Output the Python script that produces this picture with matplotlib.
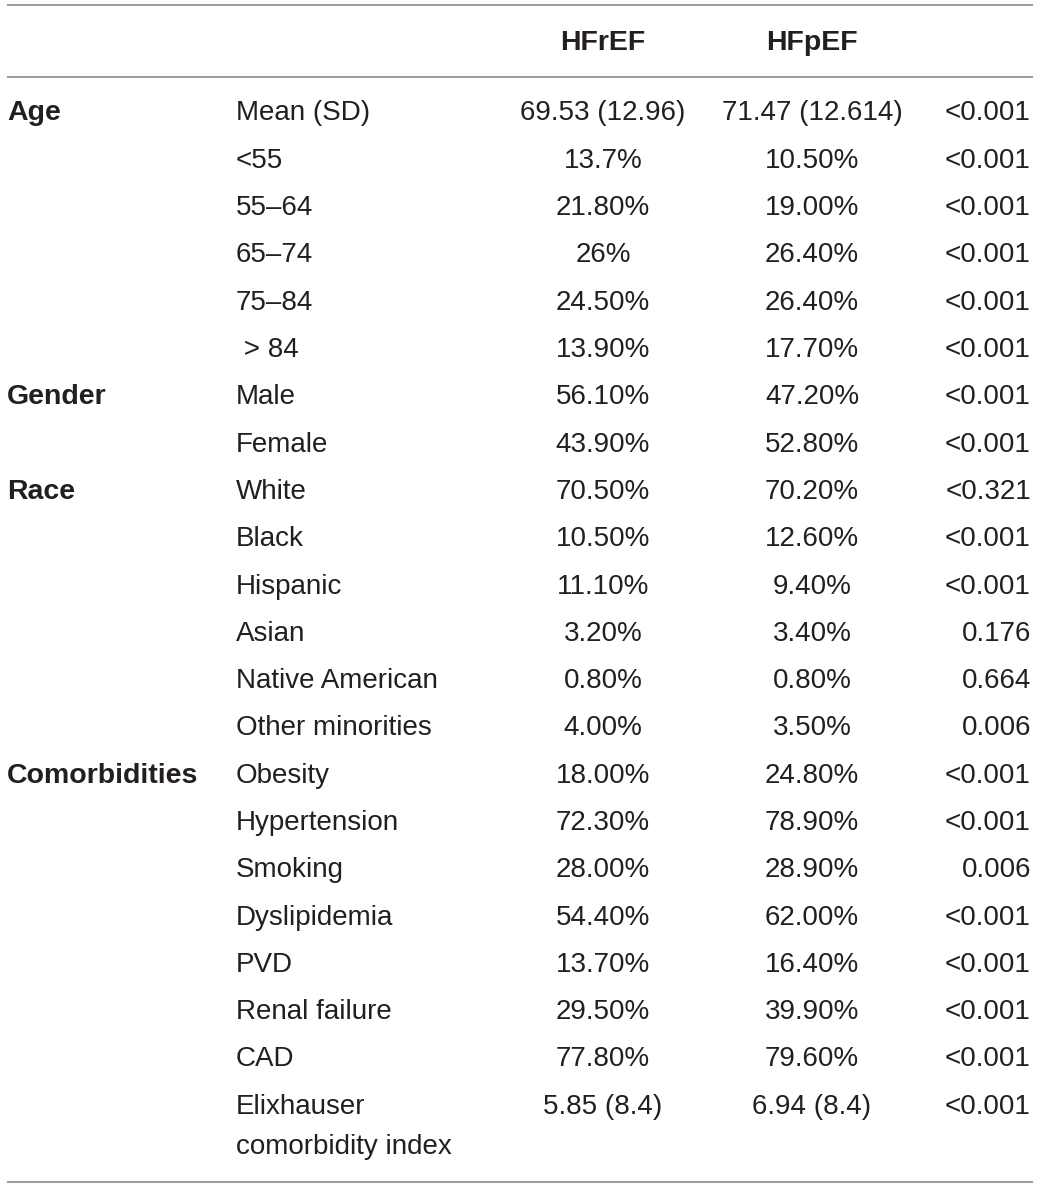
import matplotlib
matplotlib.use("Agg")
import matplotlib.pyplot as plt

groups = ["Age", "", "", "", "", "", "Gender", "", "Race", "", "", "", "", "",
          "Comorbidities", "", "", "", "", "", "", ""]
variables = ["Mean (SD)", "<55", "55–64", "65–74", "75–84", " > 84", "Male", "Female",
             "White", "Black", "Hispanic", "Asian", "Native American", "Other minorities",
             "Obesity", "Hypertension", "Smoking", "Dyslipidemia", "PVD", "Renal failure",
             "CAD", "Elixhauser\ncomorbidity index"]
hfref = ["69.53 (12.96)", "13.7%", "21.80%", "26%", "24.50%", "13.90%", "56.10%", "43.90%",
         "70.50%", "10.50%", "11.10%", "3.20%", "0.80%", "4.00%",
         "18.00%", "72.30%", "28.00%", "54.40%", "13.70%", "29.50%", "77.80%", "5.85 (8.4)"]
hfpef = ["71.47 (12.614)", "10.50%", "19.00%", "26.40%", "26.40%", "17.70%", "47.20%", "52.80%",
         "70.20%", "12.60%", "9.40%", "3.40%", "0.80%", "3.50%",
         "24.80%", "78.90%", "28.90%", "62.00%", "16.40%", "39.90%", "79.60%", "6.94 (8.4)"]
pvals = ["<0.001", "<0.001", "<0.001", "<0.001", "<0.001", "<0.001", "<0.001", "<0.001",
         "<0.321", "<0.001", "<0.001", "0.176", "0.664", "0.006",
         "<0.001", "<0.001", "0.006", "<0.001", "<0.001", "<0.001", "<0.001", "<0.001"]
headers = ["HFrEF", "HFpEF"]

W, H = 1040, 1187
fig = plt.figure(figsize=(W / 100, H / 100), dpi=100)
ax = fig.add_axes([0, 0, 1, 1])
ax.set_xlim(0, W)
ax.set_ylim(H, 0)
ax.axis("off")

color = "#231f20"
fam = ["Liberation Sans", "DejaVu Sans"]
fs = 20
fsb = 20.5

x_group, x_var, x_c1, x_c2, x_p = 7, 236, 603, 812, 1031
y_header = 43
y0, dy = 113.5, 47.3

ax.text(x_c1, y_header, headers[0], ha="center", va="center", fontsize=fsb,
        fontweight="bold", color=color, family=fam)
ax.text(x_c2, y_header, headers[1], ha="center", va="center", fontsize=fsb,
        fontweight="bold", color=color, family=fam)

for i, (g, v, a, b, p) in enumerate(zip(groups, variables, hfref, hfpef, pvals)):
    y = y0 + i * dy
    if g:
        ax.text(x_group, y, g, ha="left", va="center", fontsize=fsb, fontweight="bold",
                color=color, family=fam)
    if "\n" in v:
        lines = v.split("\n")
        for k, ln in enumerate(lines):
            ax.text(x_var, y + k * 40, ln, ha="left", va="center", fontsize=fs,
                    color=color, family=fam)
    else:
        ax.text(x_var, y, v, ha="left", va="center", fontsize=fs, color=color, family=fam)
    ax.text(x_c1, y, a, ha="center", va="center", fontsize=fs, color=color, family=fam)
    ax.text(x_c2, y, b, ha="center", va="center", fontsize=fs, color=color, family=fam)
    ax.text(x_p, y, p, ha="right", va="center", fontsize=fs, color=color, family=fam)

for yl in (5, 77, 1182):
    ax.plot([7, 1033], [yl, yl], color="#9a9a9a", lw=1.4, solid_capstyle="butt")

fig.savefig("out.png", dpi=100, facecolor="white")
